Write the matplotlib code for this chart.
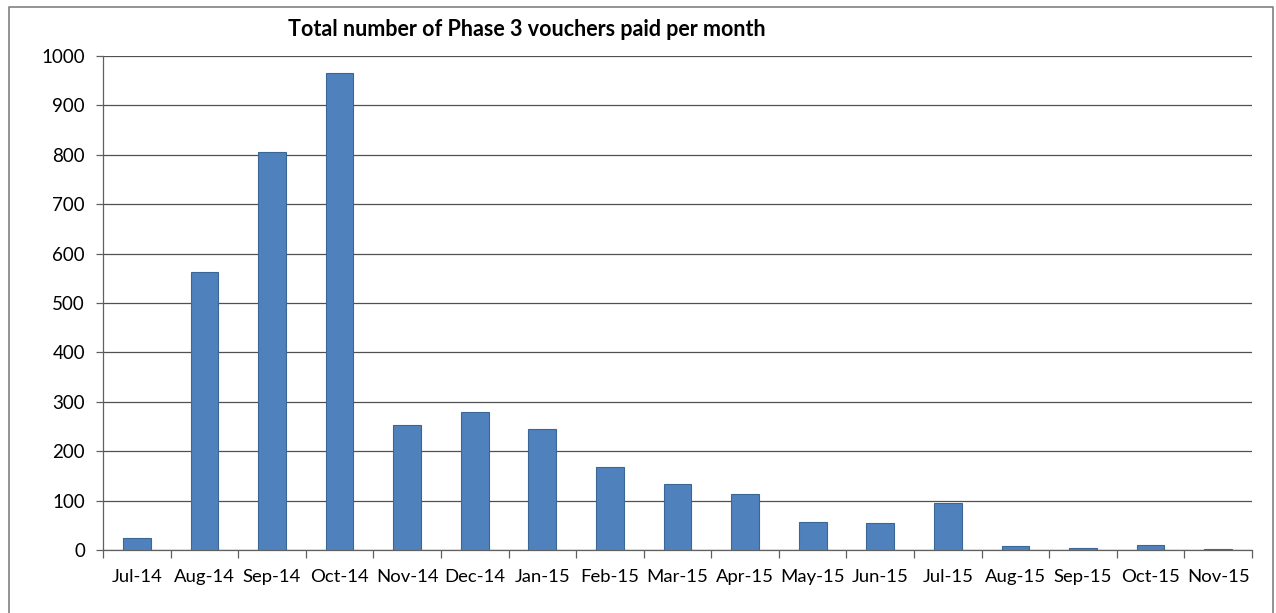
import matplotlib.pyplot as plt
from matplotlib.lines import Line2D

# monthly counts
months = ['Jul-14', 'Aug-14', 'Sep-14', 'Oct-14', 'Nov-14', 'Dec-14', 'Jan-15',
          'Feb-15', 'Mar-15', 'Apr-15', 'May-15', 'Jun-15', 'Jul-15', 'Aug-15',
          'Sep-15', 'Oct-15', 'Nov-15']
vouchers = [24, 562, 805, 966, 253, 280, 244, 168, 133, 113, 57, 54, 96, 8, 5, 11, 3]
y_ticks = [0, 100, 200, 300, 400, 500, 600, 700, 800, 900, 1000]

plt.rcParams['font.family'] = ['Lato', 'DejaVu Sans']

W, H = 1276, 613
fig = plt.figure(figsize=(W / 100, H / 100), dpi=100)
ax = fig.add_axes([103 / W, 1 - 550 / H, (1252 - 103) / W, (550 - 56) / H])

x = list(range(len(months)))
ax.bar(x, vouchers, width=0.41, color='#4F81BD', edgecolor='#3B6796',
       linewidth=0.8, zorder=3)

ax.set_xlim(-0.5, len(months) - 0.5)
ax.set_ylim(0, 1000)
ax.set_yticks(y_ticks)
ax.set_yticklabels([str(v) for v in y_ticks], fontsize=13.5)
ax.yaxis.grid(True, color='#505050', linewidth=0.9, zorder=0)

# category labels centred, tick marks between categories
ax.set_xticks(x)
ax.set_xticklabels(months, fontsize=13.3)
ax.tick_params(axis='x', length=0, pad=14)
ax.set_xticks([i - 0.5 for i in range(len(months) + 1)], minor=True)
ax.tick_params(axis='x', which='minor', length=6, color='#606060', width=0.9)
ax.tick_params(axis='y', length=5, color='#606060', width=0.9, pad=8)

for s in ['top', 'right']:
    ax.spines[s].set_visible(False)
for s in ['left', 'bottom']:
    ax.spines[s].set_color('#606060')
    ax.spines[s].set_linewidth(0.9)

fig.text(288 / W, 1 - 30 / H, 'Total number of Phase 3 vouchers paid per month',
         fontsize=15.5, fontweight='bold', ha='left', va='center')

# outer chart frame
fx0, fx1, fy0 = 9 / W, 1273 / W, 1 - 7 / H
fig.add_artist(Line2D([fx0, fx0, fx1, fx1], [0, fy0, fy0, 0],
                      transform=fig.transFigure, color='#808080', linewidth=1.2))

fig.savefig('out.png', dpi=100)
